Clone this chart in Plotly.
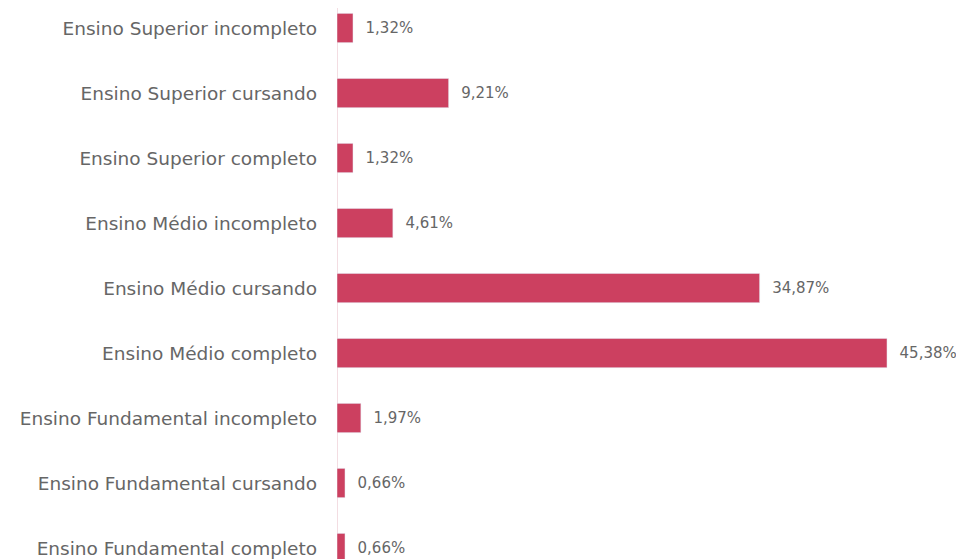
import plotly.graph_objects as go

# categories bottom -> top
categories = [
    "Ensino Fundamental completo",
    "Ensino Fundamental cursando",
    "Ensino Fundamental incompleto",
    "Ensino Médio completo",
    "Ensino Médio cursando",
    "Ensino Médio incompleto",
    "Ensino Superior completo",
    "Ensino Superior cursando",
    "Ensino Superior incompleto",
]
percentages = [0.66, 0.66, 1.97, 45.38, 34.87, 4.61, 1.32, 9.21, 1.32]

BAR_COLOR = "#cc4060"
TEXT_COLOR = "#666666"
FONT = "DejaVu Sans"

fig = go.Figure()

fig.add_trace(go.Bar(
    y=categories,
    x=percentages,
    orientation="h",
    marker_color=BAR_COLOR,
    texttemplate="\u00a0\u00a0%{x:.2f}%",
    textposition="outside",
    textfont=dict(family=FONT, size=15, color=TEXT_COLOR),
    cliponaxis=False,
    width=0.45,
))

fig.update_layout(
    width=964,
    height=559,
    margin=dict(l=329, r=29, t=0, b=0),
    plot_bgcolor="white",
    paper_bgcolor="white",
    separators=",.",
    showlegend=False,
    font=dict(family=FONT, size=15, color=TEXT_COLOR),
    xaxis=dict(
        range=[0, 50],
        showticklabels=False,
        showgrid=False,
        zeroline=True,
        zerolinecolor="#f3dde2",
        zerolinewidth=1,
    ),
    yaxis=dict(
        range=[-0.292, 8.308],
        showgrid=False,
        ticks="",
        ticklabelstandoff=19,
        tickfont=dict(family=FONT, size=18.5, color=TEXT_COLOR),
    ),
)

fig.write_html("out.html")
